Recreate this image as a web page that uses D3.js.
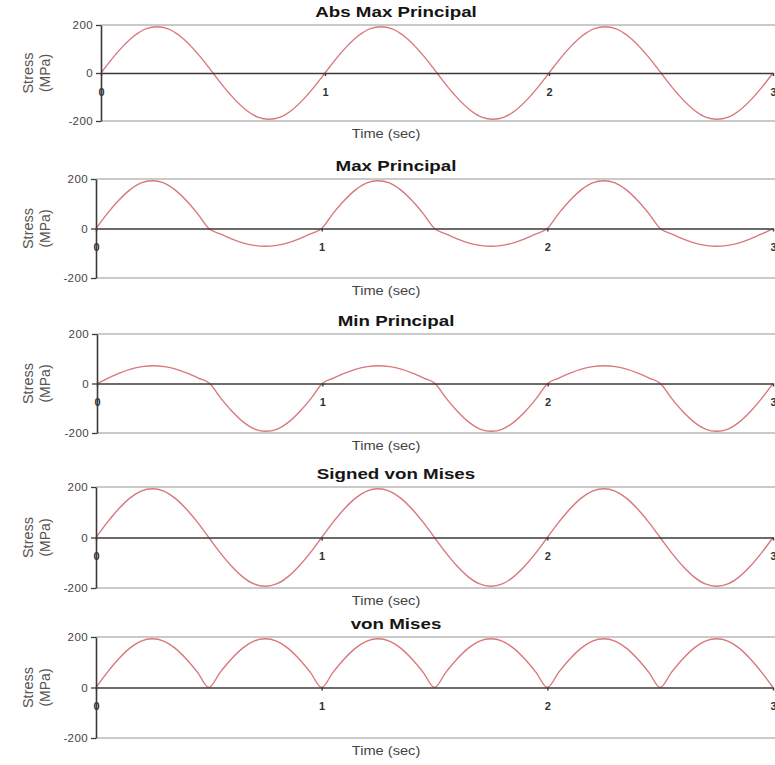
<!DOCTYPE html>
<html>
<head>
<meta charset="utf-8">
<script src="https://cdn.jsdelivr.net/npm/d3@7"></script>
<style>
  html, body { margin: 0; padding: 0; background: #fff; }
  svg { display: block; font-family: "Liberation Sans", Arial, sans-serif; }
</style>
</head>
<body>
<svg id="chart" width="775" height="765"></svg>
<script>
// ---------------- DATA ----------------
const titles = ["Abs Max Principal", "Max Principal", "Min Principal", "Signed von Mises", "von Mises"];
const xTicks = [0, 1, 2, 3];
const yTicks = [-200, 0, 200];
const xLabel = "Time (sec)";
const yLabel1 = "Stress";
const yLabel2 = "(MPa)";

const times = [0,0.05,0.1,0.15,0.2,0.25,0.3,0.35,0.4,0.45,0.5,0.55,0.6,0.65,0.7,0.75,0.8,0.85,0.9,0.95,
  1,1.05,1.1,1.15,1.2,1.25,1.3,1.35,1.4,1.45,1.5,1.55,1.6,1.65,1.7,1.75,1.8,1.85,1.9,1.95,
  2,2.05,2.1,2.15,2.2,2.25,2.3,2.35,2.4,2.45,2.5,2.55,2.6,2.65,2.7,2.75,2.8,2.85,2.9,2.95,3];

const absMaxPrincipal = [
  0,60,113,156,184,193,184,156,113,60,0,-60,-113,-156,-184,-193,-184,-156,-113,-60,
  0,60,113,156,184,193,184,156,113,60,0,-60,-113,-156,-184,-193,-184,-156,-113,-60,
  0,60,113,156,184,193,184,156,113,60,0,-60,-113,-156,-184,-193,-184,-156,-113,-60,
  0];
const maxPrincipal = [
  0,60,113,156,184,193,184,156,113,60,0,-22,-42,-58,-68,-72,-68,-58,-42,-22,
  0,60,113,156,184,193,184,156,113,60,0,-22,-42,-58,-68,-72,-68,-58,-42,-22,
  0,60,113,156,184,193,184,156,113,60,0,-22,-42,-58,-68,-72,-68,-58,-42,-22,
  0];
const minPrincipal = [
  0,22,42,58,68,72,68,58,42,22,0,-60,-113,-156,-184,-193,-184,-156,-113,-60,
  0,22,42,58,68,72,68,58,42,22,0,-60,-113,-156,-184,-193,-184,-156,-113,-60,
  0,22,42,58,68,72,68,58,42,22,0,-60,-113,-156,-184,-193,-184,-156,-113,-60,
  0];
const signedVonMises = [
  0,60,113,156,184,193,184,156,113,60,0,-60,-113,-156,-184,-193,-184,-156,-113,-60,
  0,60,113,156,184,193,184,156,113,60,0,-60,-113,-156,-184,-193,-184,-156,-113,-60,
  0,60,113,156,184,193,184,156,113,60,0,-60,-113,-156,-184,-193,-184,-156,-113,-60,
  0];
const vonMises = [
  0,60,113,156,184,193,184,156,113,60,0,60,113,156,184,193,184,156,113,60,
  0,60,113,156,184,193,184,156,113,60,0,60,113,156,184,193,184,156,113,60,
  0,60,113,156,184,193,184,156,113,60,0,60,113,156,184,193,184,156,113,60,
  0];

const series = [absMaxPrincipal, maxPrincipal, minPrincipal, signedVonMises, vonMises];

// ---------------- LAYOUT ----------------
const panels = [
  {top: 25,  bottom: 121, left: 101, right: 773},
  {top: 179, bottom: 278, left: 96,  right: 773},
  {top: 334, bottom: 433, left: 97,  right: 773},
  {top: 487, bottom: 588, left: 96,  right: 773},
  {top: 637, bottom: 738, left: 96,  right: 773}
];
const gridRight = 775;
const titleCx = 396, timeCx = 386;

const svg = d3.select("#chart");

panels.forEach((p, i) => {
  const x = d3.scaleLinear().domain([0, 3]).range([p.left, p.right]);
  const y = d3.scaleLinear().domain([-200, 200]).range([p.bottom, p.top]);
  const g = svg.append("g");

  // gridlines at +/-200
  g.selectAll("line.grid").data(yTicks.filter(v => v !== 0)).enter().append("line")
    .attr("x1", p.left).attr("x2", gridRight)
    .attr("y1", d => y(d)).attr("y2", d => y(d))
    .attr("stroke", "#b8b8b8").attr("stroke-width", 1.3);

  // data line
  const line = d3.line()
    .x((d, k) => x(times[k]))
    .y(d => y(d))
    .curve(d3.curveMonotoneX);
  g.append("path").datum(series[i])
    .attr("d", line)
    .attr("fill", "none")
    .attr("stroke", "#d9787c")
    .attr("stroke-width", 1.4);

  // x axis at zero
  const xa = g.append("g").attr("transform", `translate(0,${y(0)})`)
    .call(d3.axisBottom(x).tickValues(xTicks).tickFormat(d => String(d)).tickSize(3).tickSizeOuter(0));
  xa.select(".domain").attr("stroke", "#3a3a3a").attr("stroke-width", 1.6);
  xa.selectAll(".tick line").attr("stroke", "#3a3a3a").attr("stroke-width", 1.4);
  xa.selectAll(".tick text").attr("y", 15).attr("fill", "#333")
    .attr("font-size", 11).attr("font-weight", "bold");

  // y axis
  const ya = g.append("g").attr("transform", `translate(${p.left},0)`)
    .call(d3.axisLeft(y).tickValues(yTicks).tickFormat(d => String(d)).tickSize(5).tickPadding(3).tickSizeOuter(0));
  ya.select(".domain").attr("stroke", "#3a3a3a").attr("stroke-width", 1.6);
  ya.selectAll(".tick line").attr("stroke", "#3a3a3a").attr("stroke-width", 1.3);
  ya.selectAll(".tick text").attr("fill", "#444").attr("font-size", 11.5)
    .attr("letter-spacing", "0.4px");

  // title
  g.append("text")
    .attr("transform", `translate(${titleCx},${p.top - 8}) scale(1.34,1)`)
    .attr("text-anchor", "middle")
    .attr("font-size", 14).attr("font-weight", "bold").attr("fill", "#151515")
    .text(titles[i]);

  // x label
  g.append("text")
    .attr("transform", `translate(${timeCx},${p.bottom + 17}) scale(1.22,1)`)
    .attr("text-anchor", "middle")
    .attr("font-size", 12).attr("fill", "#444")
    .text(xLabel);

  // y label (two lines, rotated)
  const cy = y(0);
  g.append("text")
    .attr("transform", `translate(33,${cy}) rotate(-90)`)
    .attr("text-anchor", "middle")
    .attr("font-size", 14.5).attr("fill", "#555")
    .text(yLabel1);
  g.append("text")
    .attr("transform", `translate(50,${cy}) rotate(-90)`)
    .attr("text-anchor", "middle")
    .attr("font-size", 14).attr("fill", "#555")
    .text(yLabel2);
});
</script>
</body>
</html>
